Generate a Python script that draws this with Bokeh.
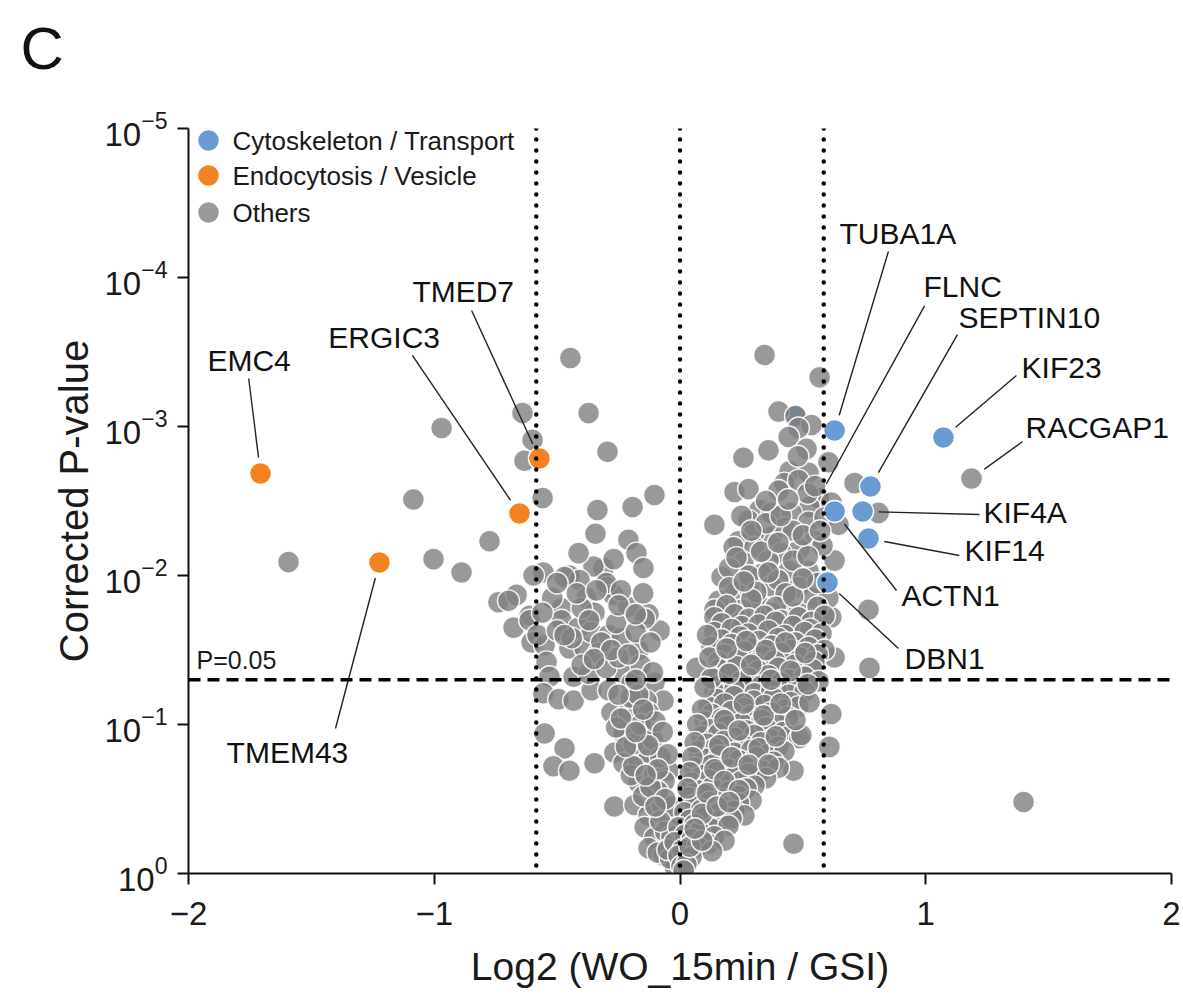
import math
from bokeh.plotting import figure
from bokeh.models import (ColumnDataSource, Range1d, Span, Label, LabelSet,
                          FixedTicker, LogTickFormatter, Title)
from bokeh.core.properties import value
from bokeh.embed import file_html
from bokeh.resources import INLINE

# ---------------- data: (log2 fold change, -log10 corrected p) ----------------
cyto_genes = ["TUBA1A", "SEPTIN10", "KIF23", "KIF4A", "KIF14", "ACTN1", "DBN1"]
cyto_log2fc = [0.629, 0.775, 1.072, 0.743, 0.767, 0.629, 0.600]
cyto_nlp = [2.973, 2.597, 2.926, 2.430, 2.248, 2.430, 1.953]

# cytoskeleton proteins that sit underneath other points
cyto_under_genes = ["FLNC", ""]
cyto_under_log2fc = [0.564, 0.470]
cyto_under_nlp = [2.52, 3.07]

endo_genes = ["EMC4", "TMEM43", "ERGIC3", "TMED7"]
endo_log2fc = [-1.707, -1.223, -0.653, -0.572]
endo_nlp = [2.685, 2.087, 2.416, 2.785]

named_other_genes = ["RACGAP1"]
named_other_log2fc = [1.186]
named_other_nlp = [2.651]

others_outliers = [
    (-1.593, 2.09), (-1.085, 2.51), (-1.003, 2.11), (-0.970, 2.99), (-0.889, 2.02),
    (-0.775, 2.23), (-0.739, 1.82), (-0.665, 1.87), (-0.641, 3.09), (-0.633, 2.77),
    (-0.600, 2.91), (-0.559, 2.52), (-0.446, 3.46), (-0.372, 3.09), (-0.295, 2.83),
    (-0.104, 2.54), (-0.336, 2.44), (-0.193, 2.46), (-0.344, 2.28), (-0.210, 2.24),
    (-0.083, 1.63), (0.344, 3.48), (0.568, 3.33), (0.604, 2.76), (0.710, 2.62),
    (0.808, 2.42), (0.767, 1.77), (0.771, 1.38), (0.462, 0.20), (1.398, 0.48),
    (0.140, 2.34), (0.616, 1.72), (0.629, 1.45), (0.616, 1.07), (0.608, 0.85),
]

others_left = [
    (-0.311, 2.05), (-0.352, 2.06), (-0.450, 2.00), (-0.409, 1.97), (-0.470, 1.99),
    (-0.299, 1.92), (-0.271, 1.87), (-0.380, 1.85), (-0.482, 1.78), (-0.348, 1.75),
    (-0.210, 1.79), (-0.128, 1.74), (-0.612, 1.73), (-0.413, 2.15), (-0.177, 2.15),
    (-0.149, 2.05), (-0.270, 2.11), (-0.556, 2.02), (-0.596, 2.00), (-0.677, 1.65),
    (-0.612, 1.70), (-0.604, 1.55), (-0.551, 1.53), (-0.543, 1.42), (-0.531, 1.32),
    (-0.556, 1.21), (-0.494, 1.17), (-0.433, 1.16), (-0.433, 1.32), (-0.482, 1.70),
    (-0.413, 1.65), (-0.450, 1.51), (-0.389, 1.51), (-0.360, 1.62), (-0.332, 1.48),
    (-0.291, 1.60), (-0.238, 1.58), (-0.169, 1.50), (-0.144, 1.71), (-0.360, 1.23),
    (-0.291, 1.23), (-0.372, 1.34), (-0.226, 1.34), (-0.197, 1.28), (-0.104, 1.28),
    (-0.067, 1.16), (-0.136, 1.16), (-0.279, 1.08), (-0.210, 1.09), (-0.128, 1.08),
    (-0.230, 0.94), (-0.136, 0.96), (-0.551, 0.94), (-0.470, 0.84), (-0.515, 0.72),
    (-0.450, 0.69), (-0.348, 0.74), (-0.267, 0.81), (-0.230, 0.74), (-0.169, 0.76),
    (-0.128, 0.81), (-0.189, 0.87), (-0.169, 0.61), (-0.104, 0.67), (-0.047, 0.69),
    (-0.063, 0.62), (-0.267, 0.45), (-0.185, 0.46), (-0.128, 0.39), (-0.075, 0.46),
    (-0.047, 0.36), (-0.144, 0.31), (-0.104, 0.24), (-0.043, 0.20), (-0.128, 0.17),
    (-0.067, 0.12), (-0.006, 0.07), (-0.698, 1.83), (-0.580, 1.60), (-0.500, 1.63),
    (-0.440, 1.58), (-0.320, 1.55), (-0.260, 1.68), (-0.180, 1.62), (-0.400, 1.40),
    (-0.300, 1.38), (-0.250, 1.45), (-0.160, 1.40), (-0.200, 1.18), (-0.160, 1.00),
    (-0.110, 0.90), (-0.200, 0.66), (-0.090, 0.55), (-0.150, 0.52), (-0.060, 0.28),
    (-0.030, 0.45), (-0.080, 0.78), (-0.100, 1.02), (-0.520, 1.85), (-0.400, 1.78),
    (-0.300, 1.95), (-0.240, 1.90), (-0.150, 1.88), (-0.026, 0.10), (0.006, 0.09),
    (0.022, 0.14), (-0.010, 0.17), (-0.020, 0.04), (-0.035, 0.25), (-0.080, 0.35),
    (-0.090, 0.14), (-0.070, 0.95), (-0.050, 0.80), (-0.120, 0.58), (-0.190, 0.72),
    (-0.220, 0.85), (-0.260, 0.98), (-0.170, 1.20), (-0.110, 1.35),
    (-0.500, 1.95), (-0.420, 1.88), (-0.340, 1.90), (-0.250, 1.80), (-0.180, 1.74),
    (-0.560, 1.75), (-0.470, 1.60), (-0.370, 1.70), (-0.280, 1.50), (-0.210, 1.47),
    (-0.120, 1.55), (-0.350, 1.44), (-0.180, 1.30), (-0.250, 1.20), (-0.150, 1.10),
    (-0.240, 1.04), (-0.130, 0.86), (-0.180, 0.95), (-0.090, 0.70), (-0.140, 0.66),
    (-0.060, 0.50), (-0.100, 0.45), (-0.040, 0.10), (-0.050, 0.16),
]

others_right_upper = [
    (0.401, 3.10), (0.470, 3.07), (0.535, 3.01), (0.482, 2.99), (0.442, 2.93),
    (0.515, 2.85), (0.360, 2.84), (0.258, 2.79), (0.446, 2.70), (0.523, 2.69),
    (0.425, 2.62), (0.482, 2.64), (0.222, 2.56), (0.279, 2.58), (0.401, 2.57),
    (0.564, 2.52), (0.616, 2.49), (0.527, 2.46), (0.323, 2.44), (0.279, 2.37),
    (0.372, 2.42), (0.454, 2.42), (0.523, 2.36), (0.588, 2.39), (0.645, 2.34),
    (0.372, 2.26), (0.303, 2.29), (0.238, 2.23), (0.425, 2.32), (0.547, 2.23),
    (0.486, 2.18), (0.218, 2.19), (0.303, 2.19), (0.413, 2.15), (0.258, 2.09),
    (0.360, 2.10), (0.332, 2.01), (0.442, 2.03), (0.523, 2.03), (0.629, 2.10),
    (0.169, 1.99), (0.222, 1.88), (0.279, 1.92), (0.372, 1.93), (0.482, 1.92),
    (0.535, 1.85), (0.604, 1.85), (0.157, 1.83), (0.319, 1.81), (0.425, 1.83),
    (0.140, 1.77), (0.250, 1.77), (0.372, 1.75), (0.482, 1.75), (0.200, 2.05),
    (0.280, 2.00), (0.400, 1.97), (0.460, 2.10), (0.560, 1.95), (0.250, 2.40),
    (0.350, 2.35), (0.460, 2.30), (0.580, 2.20), (0.310, 1.89), (0.430, 1.88),
    (0.200, 1.92), (0.520, 2.55), (0.480, 2.80), (0.550, 2.60),
    (0.190, 1.80), (0.290, 1.84), (0.390, 1.79), (0.460, 1.86), (0.560, 1.79),
    (0.260, 1.96), (0.360, 2.02), (0.500, 1.98), (0.230, 2.12), (0.330, 2.16),
    (0.400, 2.22), (0.520, 2.13), (0.290, 2.30), (0.410, 2.40), (0.500, 2.27),
    (0.350, 2.50), (0.440, 2.51), (0.570, 2.30),
]

others_right_mid = [
    (0.140, 1.72), (0.222, 1.74), (0.279, 1.71), (0.344, 1.73), (0.413, 1.70),
    (0.482, 1.72), (0.535, 1.69), (0.588, 1.73), (0.170, 1.68), (0.250, 1.66),
    (0.320, 1.67), (0.390, 1.69), (0.460, 1.66), (0.530, 1.64), (0.140, 1.62),
    (0.210, 1.64), (0.279, 1.61), (0.360, 1.63), (0.425, 1.60), (0.507, 1.62),
    (0.576, 1.61), (0.170, 1.57), (0.245, 1.59), (0.320, 1.56), (0.400, 1.58),
    (0.470, 1.55), (0.550, 1.57), (0.128, 1.52), (0.210, 1.54), (0.291, 1.51),
    (0.372, 1.53), (0.454, 1.50), (0.523, 1.52), (0.588, 1.50), (0.180, 1.47),
    (0.260, 1.49), (0.335, 1.46), (0.410, 1.48), (0.490, 1.45), (0.560, 1.47),
    (0.157, 1.42), (0.238, 1.44), (0.303, 1.41), (0.385, 1.43), (0.466, 1.40),
    (0.547, 1.42), (0.160, 1.37), (0.230, 1.39), (0.320, 1.36), (0.400, 1.38),
    (0.470, 1.35), (0.540, 1.37), (0.128, 1.32), (0.197, 1.34), (0.279, 1.31),
    (0.360, 1.33), (0.442, 1.30), (0.507, 1.32), (0.564, 1.29), (0.165, 1.27),
    (0.250, 1.29), (0.330, 1.26), (0.410, 1.28), (0.480, 1.25), (0.140, 1.22),
    (0.222, 1.24), (0.303, 1.21), (0.372, 1.23), (0.442, 1.20), (0.507, 1.22),
    (0.150, 1.17), (0.220, 1.19), (0.300, 1.16), (0.380, 1.18), (0.450, 1.15),
    (0.116, 1.12), (0.181, 1.14), (0.262, 1.11), (0.344, 1.13), (0.425, 1.10),
    (0.482, 1.12), (0.130, 1.07), (0.210, 1.09), (0.290, 1.06), (0.370, 1.08),
    (0.440, 1.05), (0.100, 1.02), (0.169, 1.04), (0.250, 1.01), (0.332, 1.03),
    (0.401, 1.00), (0.120, 0.97), (0.190, 0.99), (0.270, 0.96), (0.350, 0.98),
    (0.420, 0.95), (0.087, 0.92), (0.157, 0.94), (0.222, 0.91), (0.303, 0.93),
    (0.372, 0.90), (0.442, 0.92), (0.067, 1.38), (0.128, 1.31), (0.527, 1.15),
    (0.486, 0.91), (0.494, 0.93), (0.462, 0.69),
    (0.110, 1.60), (0.120, 1.45), (0.100, 1.25), (0.090, 1.10), (0.070, 1.00),
    (0.190, 1.51), (0.270, 1.56), (0.350, 1.50), (0.430, 1.55), (0.510, 1.48),
    (0.200, 1.34), (0.290, 1.40), (0.370, 1.30), (0.450, 1.36), (0.520, 1.27),
    (0.180, 1.03), (0.260, 1.14), (0.340, 1.06), (0.410, 1.14), (0.470, 1.03),
]

others_right_low = [
    (0.110, 0.87), (0.180, 0.89), (0.260, 0.86), (0.330, 0.88), (0.400, 0.85),
    (0.075, 0.82), (0.140, 0.84), (0.222, 0.81), (0.291, 0.83), (0.360, 0.80),
    (0.425, 0.82), (0.100, 0.77), (0.160, 0.79), (0.240, 0.76), (0.310, 0.78),
    (0.380, 0.75), (0.059, 0.71), (0.128, 0.73), (0.197, 0.70), (0.262, 0.72),
    (0.332, 0.69), (0.401, 0.71), (0.090, 0.66), (0.150, 0.68), (0.220, 0.65),
    (0.280, 0.67), (0.350, 0.64), (0.047, 0.61), (0.116, 0.63), (0.181, 0.60),
    (0.250, 0.62), (0.303, 0.59), (0.070, 0.56), (0.130, 0.58), (0.200, 0.55),
    (0.270, 0.57), (0.035, 0.51), (0.100, 0.53), (0.169, 0.50), (0.238, 0.52),
    (0.291, 0.49), (0.060, 0.46), (0.120, 0.48), (0.190, 0.45), (0.240, 0.47),
    (0.018, 0.41), (0.087, 0.43), (0.157, 0.40), (0.222, 0.42), (0.262, 0.39),
    (0.040, 0.36), (0.100, 0.38), (0.160, 0.35), (0.210, 0.37), (-0.006, 0.31),
    (0.059, 0.33), (0.128, 0.30), (0.197, 0.32), (0.020, 0.26), (0.080, 0.28),
    (0.140, 0.25), (-0.022, 0.21), (0.047, 0.23), (0.116, 0.20), (0.181, 0.22),
    (0.010, 0.16), (0.070, 0.18), (0.130, 0.15), (-0.006, 0.12), (0.047, 0.11),
    (0.006, 0.05), (0.026, 0.06), (0.015, 0.02),
    (0.060, 0.88), (0.050, 0.78), (0.040, 0.68), (0.030, 0.57), (0.160, 0.86),
    (0.240, 0.96), (0.320, 0.84), (0.390, 0.92), (0.140, 0.70), (0.210, 0.78),
    (0.280, 0.73), (0.360, 0.73), (0.110, 0.54), (0.180, 0.62), (0.240, 0.56),
    (0.090, 0.40), (0.150, 0.45), (0.200, 0.48), (0.040, 0.18), (0.090, 0.22),
    (0.060, 0.30),
]

# gene label text positions and leader line starts (log2fc, -log10 p)
label_genes = ["TUBA1A", "FLNC", "SEPTIN10", "KIF23", "RACGAP1", "KIF4A", "KIF14",
               "ACTN1", "DBN1", "EMC4", "ERGIC3", "TMED7", "TMEM43"]
label_x = [0.649, 0.991, 1.133, 1.390, 1.406, 1.235, 1.158, 0.901, 0.914,
           -1.923, -1.431, -1.089, -1.845]
label_nlp = [4.295, 3.940, 3.732, 3.396, 2.993, 2.423, 2.168, 1.866, 1.443,
             3.443, 3.597, 3.906, 0.812]
leader_x = [0.848, 0.995, 1.129, 1.369, 1.394, 1.219, 1.137, 0.881, 0.889,
            -1.755, -1.089, -0.848, -1.402]
leader_nlp = [4.174, 3.810, 3.617, 3.342, 2.899, 2.409, 2.134, 1.899, 1.510,
              3.322, 3.477, 3.779, 0.973]

x_ticks = [-2, -1, 0, 1, 2]
y_ticks = [1, 1e-1, 1e-2, 1e-3, 1e-4, 1e-5]
fc_cut = math.log2(1.5)
p_cut = 0.05
legend_names = ["Cytoskeleton / Transport", "Endocytosis / Vesicle", "Others"]
panel_letter = "C"

# ---------------- styling ----------------
BLUE = "#6a9bd3"
ORANGE = "#f58220"
GRAY = "#808080"
FONT = "Liberation Sans"
FRAME_W, FRAME_H = 983, 745
px_per_x = FRAME_W / 4.0
px_per_dec = FRAME_H / 5.0


def pv(nlp):
    return [10 ** (-v) for v in nlp]


p = figure(x_range=Range1d(-2, 2), y_range=Range1d(1, 1e-5), y_axis_type="log",
           output_backend="svg", toolbar_location=None,
           min_border_left=188, min_border_right=12, min_border_top=128,
           min_border_bottom=120)
p.frame_width = FRAME_W
p.frame_height = FRAME_H
p.outline_line_color = None
p.xgrid.visible = False
p.ygrid.visible = False
p.background_fill_color = "white"

# panel letter as the main title, with a blank spacer title between it and the frame
p.title.text = panel_letter
p.title.text_font = FONT
p.title.text_font_size = "60px"
p.title.text_font_style = "normal"
p.title.text_color = "#111111"
p.title.align = "left"
p.title.vertical_align = "top"
p.title.offset = -168
p.title.standoff = 10
p.add_layout(Title(text=" ", text_font_size="10px", standoff=27), "above")

# axes
p.xaxis.ticker = FixedTicker(ticks=x_ticks, minor_ticks=[])
p.yaxis.ticker = FixedTicker(ticks=y_ticks, minor_ticks=[])
p.yaxis.formatter = LogTickFormatter()
for ax in (p.xaxis, p.yaxis):
    ax.axis_line_width = 2
    ax.axis_line_color = "#111111"
    ax.major_tick_line_width = 2
    ax.major_tick_line_color = "#111111"
    ax.major_tick_out = 11
    ax.major_tick_in = 0
    ax.minor_tick_line_color = None
    ax.major_label_text_font = FONT
    ax.major_label_text_font_size = "33px"
    ax.major_label_text_color = "#1a1a1a"
    ax.axis_label_text_font = FONT
    ax.axis_label_text_font_style = "normal"
    ax.axis_label_text_color = "#1a1a1a"
p.xaxis.axis_label = "Log2 (WO_15min / GSI)"
p.yaxis.axis_label = "Corrected P-value"
p.xaxis.axis_label_text_font_size = "39px"
p.yaxis.axis_label_text_font_size = "40px"
p.xaxis.major_label_standoff = 17
p.yaxis.major_label_standoff = 10
p.xaxis.axis_label_standoff = 17
p.yaxis.axis_label_standoff = 5

# threshold lines
for xv in (-fc_cut, 0.0, fc_cut):
    p.add_layout(Span(location=xv, dimension="height", line_color="black",
                      line_width=4.5, line_dash="0 11", line_cap="round"))
p.add_layout(Span(location=p_cut, dimension="width", line_color="black",
                  line_width=3.5, line_dash="12 7"))
p.add_layout(Label(x=-2, y=p_cut, x_offset=8, y_offset=6, text="P=0.05",
                   text_font=FONT, text_font_size="25px", text_color="#1a1a1a",
                   text_baseline="bottom"))

pt_style = dict(size=22, line_color="white", line_width=1.4)

# points
under = ColumnDataSource(dict(x=cyto_under_log2fc, y=pv(cyto_under_nlp)))
p.scatter("x", "y", source=under, fill_color=BLUE, **pt_style)

others_all = (others_outliers + others_left + others_right_upper +
              others_right_mid + others_right_low)
ox = [a for a, b in others_all] + named_other_log2fc
oy = pv([b for a, b in others_all] + named_other_nlp)
p.scatter(x=ox, y=oy, fill_color=GRAY, fill_alpha=0.8, line_alpha=0.9, **pt_style)

cyto = ColumnDataSource(dict(x=cyto_log2fc, y=pv(cyto_nlp)))
p.scatter("x", "y", source=cyto, fill_color=BLUE, **pt_style)
endo = ColumnDataSource(dict(x=endo_log2fc, y=pv(endo_nlp)))
p.scatter("x", "y", source=endo, fill_color=ORANGE, **pt_style)

# leader lines: from label anchor to the point, stopping short of the point
pos = {}
for g, x, n in zip(cyto_genes, cyto_log2fc, cyto_nlp):
    pos[g] = (x, n)
for g, x, n in zip(cyto_under_genes, cyto_under_log2fc, cyto_under_nlp):
    if g:
        pos[g] = (x, n)
for g, x, n in zip(endo_genes, endo_log2fc, endo_nlp):
    pos[g] = (x, n)
for g, x, n in zip(named_other_genes, named_other_log2fc, named_other_nlp):
    pos[g] = (x, n)

gap = 16.0
x0s, y0s, x1s, y1s = [], [], [], []
for g, sx, sn in zip(label_genes, leader_x, leader_nlp):
    tx, tn = pos[g]
    dx = (tx - sx) * px_per_x
    dy = (tn - sn) * px_per_dec
    L = math.hypot(dx, dy)
    ex = tx - dx / L * gap / px_per_x
    en = tn - dy / L * gap / px_per_dec
    x0s.append(sx); y0s.append(10 ** (-sn))
    x1s.append(ex); y1s.append(10 ** (-en))
p.segment(x0=x0s, y0=y0s, x1=x1s, y1=y1s, line_color="#222222", line_width=1.4)

lab_src = ColumnDataSource(dict(x=label_x, y=pv(label_nlp), text=label_genes))
p.add_layout(LabelSet(x="x", y="y", text="text", source=lab_src,
                      text_font=value(FONT), text_font_size=value("30px"),
                      text_color="#111111", text_baseline="middle",
                      text_align="left"))

# legend (drawn manually so the markers match the data marker size)
leg_dx = [20 / px_per_x - 2] * 3
leg_n = [5 - 12 / px_per_dec, 5 - 47 / px_per_dec, 5 - 84 / px_per_dec]
p.scatter(x=leg_dx, y=pv(leg_n), fill_color=[BLUE, ORANGE, GRAY],
          fill_alpha=[1, 1, 0.8], **pt_style)
for name, n in zip(legend_names, leg_n):
    p.add_layout(Label(x=-2 + 44 / px_per_x, y=10 ** (-n), text=name,
                       text_font=FONT, text_font_size="26px",
                       text_color="#1a1a1a", text_baseline="middle"))

open("out.html", "w").write(file_html(p, INLINE))
